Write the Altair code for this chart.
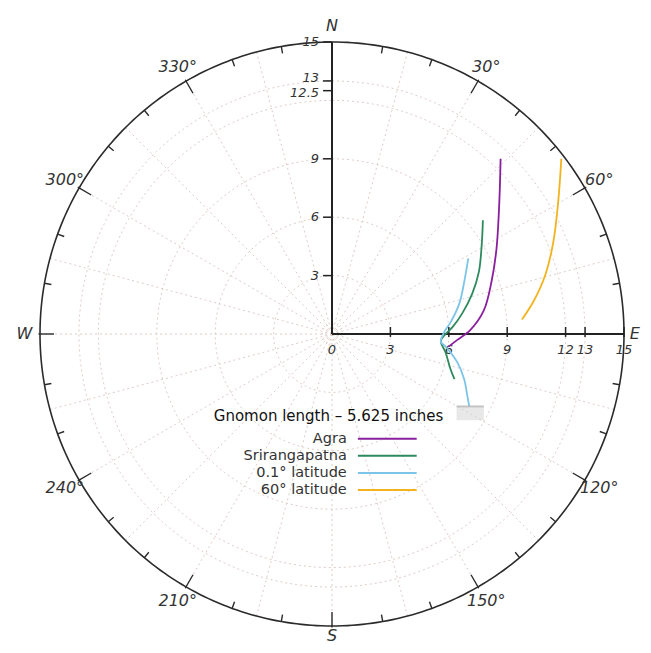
import numpy as np
import pandas as pd
import altair as alt

# ---------------- data (x = east, y = north, in inches) ----
series_names = ["Agra", "Srirangapatna", "0.1° latitude", "60° latitude"]
series_colors = ["#8a1f9e", "#2e8a5e", "#7cc4e8", "#f2b31e"]

agra_x = [8.66, 8.60, 8.45, 8.20, 7.80, 7.10, 6.44, 5.99]
agra_y = [9.00, 6.90, 4.38, 2.72, 1.21, 0.20, -0.30, -0.65]

sri_x = [7.75, 7.70, 7.55, 7.20, 6.69, 6.19, 5.84, 5.59, 5.84, 6.09, 6.29]
sri_y = [5.84, 4.73, 3.22, 2.06, 1.06, 0.35, 0.00, -0.35, -0.96, -1.81, -2.32]

lat01_x = [7.00, 6.80, 6.54, 6.09, 5.79, 5.59, 5.84, 6.44, 6.79, 6.95, 7.05]
lat01_y = [3.88, 2.72, 1.56, 0.60, 0.15, -0.40, -0.65, -1.46, -2.32, -3.17, -3.72]

lat60_x = [11.78, 11.63, 11.37, 10.97, 10.37, 9.76]
lat60_y = [9.00, 6.90, 4.73, 3.07, 1.71, 0.75]

n_ticks = [3, 6, 9, 12.5, 13, 15]
n_labels = ["3", "6", "9", "12.5", "13", "15"]
n_label_shift = [0, 0, 0, 2, -3, 0]
e_ticks = [0, 3, 6, 9, 12, 13, 15]
e_labels = ["0", "3", "6", "9", "12", "13", "15"]

angle_label_deg = [30, 60, 120, 150, 210, 240, 300, 330]
compass_deg = [0, 90, 180, 270]
compass_txt = ["N", "E", "S", "W"]
compass_r = [15.8, 15.55, 15.5, 15.8]

grid_radii = [0.5, 3, 6, 9, 12, 13]
grid_spoke_step = 15

legend_title = "Gnomon length \u2013 5.625 inches"

# faint grey smudge near the end of the 0.1° curve
smudge_x = [6.4, 7.8]
smudge_y = [-3.72, -4.43]

# ---------------- layout constants ----------------
R = 15.0
PLOT = 584
LAB_R = 15.85

xs = alt.Scale(domain=[-R, R], nice=False, zero=False)
ys = alt.Scale(domain=[-R, R], nice=False, zero=False)


def enc(**kw):
    out = {}
    for k, v in kw.items():
        if k == "x":
            out[k] = alt.X(v, type="quantitative", scale=xs, axis=None)
        elif k == "y":
            out[k] = alt.Y(v, type="quantitative", scale=ys, axis=None)
        elif k == "x2":
            out[k] = alt.X2(v)
        elif k == "y2":
            out[k] = alt.Y2(v)
        else:
            out[k] = v
    return out


def circle_df(radii, step=2):
    rows = []
    for r in radii:
        for i, a in enumerate(np.arange(0, 360 + step, step)):
            t = np.deg2rad(a)
            rows.append({"ring": str(r), "i": i, "x": r * np.sin(t), "y": r * np.cos(t)})
    return pd.DataFrame(rows)


GRID = "#dac6bf"
grid_c = alt.Chart(circle_df(grid_radii)).mark_line(
    color=GRID, strokeWidth=0.9, strokeDash=[2, 3]
).encode(**enc(x="x", y="y"), detail="ring:N", order="i:Q")

spokes = []
for a in range(0, 360, grid_spoke_step):
    t = np.deg2rad(a)
    spokes.append({"x": 0.0, "y": 0.0, "x2": R * np.sin(t), "y2": R * np.cos(t)})
grid_s = alt.Chart(pd.DataFrame(spokes)).mark_rule(
    color=GRID, strokeWidth=0.9, strokeDash=[2, 3]
).encode(**enc(x="x", y="y", x2="x2", y2="y2"))

outer = alt.Chart(circle_df([R], step=1)).mark_line(
    color="#2b2b2b", strokeWidth=1.6
).encode(**enc(x="x", y="y"), detail="ring:N", order="i:Q")

ticks = []
for a in range(10, 360, 10):
    if a == 90:
        continue
    t = np.deg2rad(a)
    inner = 0.72 if a % 30 == 0 else 0.36
    outr = 0.08 if a % 30 == 0 else 0.0
    ticks.append({"x": (R - inner) * np.sin(t), "y": (R - inner) * np.cos(t),
                  "x2": (R + outr) * np.sin(t), "y2": (R + outr) * np.cos(t)})
circ_ticks = alt.Chart(pd.DataFrame(ticks)).mark_rule(
    color="#2b2b2b", strokeWidth=1.4
).encode(**enc(x="x", y="y", x2="x2", y2="y2"))

axes_df = pd.DataFrame([
    {"x": 0.0, "y": 0.0, "x2": 0.0, "y2": R},
    {"x": 0.0, "y": 0.0, "x2": R, "y2": 0.0},
])
axes = alt.Chart(axes_df).mark_rule(color="#222222", strokeWidth=2).encode(
    **enc(x="x", y="y", x2="x2", y2="y2"))

nt_df = pd.DataFrame({"y": n_ticks, "lab": n_labels, "sh": n_label_shift})
nt_df["x"] = -0.46
nt_df["x2"] = 0.0
n_tick_marks = alt.Chart(nt_df).mark_rule(color="#222222", strokeWidth=1.5).encode(
    **enc(x="x", x2="x2", y="y"))
n_text_layers = []
for sh in sorted(set(n_label_shift)):
    n_text_layers.append(
        alt.Chart(nt_df[nt_df["sh"] == sh]).mark_text(
            align="right", baseline="middle", dx=-4, dy=sh, font="DejaVu Sans",
            fontStyle="italic", fontSize=13, color="#333333"
        ).encode(**enc(x="x", y="y"), text="lab:N")
    )

et_df = pd.DataFrame({"x": e_ticks, "lab": e_labels})
et_df["y"] = -0.15
et_df["y2"] = 0.36
et_df["y0"] = 0.0
e_tick_marks = alt.Chart(et_df[et_df["x"] > 0]).mark_rule(color="#222222", strokeWidth=1.5).encode(
    **enc(x="x", y="y", y2="y2"))
e_tick_text = alt.Chart(et_df).mark_text(
    align="center", baseline="middle", dy=16, font="DejaVu Sans", fontStyle="italic",
    fontSize=13, color="#333333"
).encode(**enc(x="x", y="y0"), text="lab:N")

al_df = pd.DataFrame({
    "x": [LAB_R * np.sin(np.deg2rad(a)) for a in angle_label_deg],
    "y": [LAB_R * np.cos(np.deg2rad(a)) for a in angle_label_deg],
    "lab": [f"{a}\u00b0" for a in angle_label_deg],
})
angle_text = alt.Chart(al_df).mark_text(
    align="center", baseline="middle", font="DejaVu Sans", fontStyle="italic",
    fontSize=16, color="#333333"
).encode(**enc(x="x", y="y"), text="lab:N")

cp_df = pd.DataFrame({
    "x": [r * np.sin(np.deg2rad(a)) for a, r in zip(compass_deg, compass_r)],
    "y": [r * np.cos(np.deg2rad(a)) for a, r in zip(compass_deg, compass_r)],
    "lab": compass_txt,
})
compass_text = alt.Chart(cp_df).mark_text(
    align="center", baseline="middle", font="DejaVu Sans", fontStyle="italic",
    fontSize=16, color="#333333"
).encode(**enc(x="x", y="y"), text="lab:N")

rows = []
for name, xv, yv in zip(series_names, [agra_x, sri_x, lat01_x, lat60_x],
                        [agra_y, sri_y, lat01_y, lat60_y]):
    for i, (a, b) in enumerate(zip(xv, yv)):
        rows.append({"series": name, "i": i, "x": a, "y": b})
lines_df = pd.DataFrame(rows)
color_scale = alt.Scale(domain=series_names, range=series_colors)
curves = alt.Chart(lines_df).mark_line(strokeWidth=1.8, interpolate="catmull-rom").encode(
    **enc(x="x", y="y"),
    color=alt.Color("series:N", scale=color_scale, legend=None),
    detail="series:N", order="i:Q")

sm_df = pd.DataFrame({"x": [smudge_x[0]], "x2": [smudge_x[1]],
                      "y": [smudge_y[0]], "y2": [smudge_y[1]]})
smudge = alt.Chart(sm_df).mark_rect(color="#d2d2d2", opacity=0.5).encode(
    **enc(x="x", x2="x2", y="y", y2="y2"))
smudge_line = alt.Chart(sm_df).mark_rule(color="#b0b0b0", strokeWidth=2, opacity=0.7).encode(
    **enc(x="x", x2="x2", y="y"))

# legend (hand-made: labels to the left of line samples)
LEG_TITLE_Y = -4.2
LEG_Y0 = -5.38
LEG_STEP = 0.88
leg_df = pd.DataFrame({"series": series_names,
                       "y": [LEG_Y0 - k * LEG_STEP for k in range(len(series_names))]})
leg_df["xl"] = 0.76
leg_df["xa"] = 1.33
leg_df["xb"] = 4.35
leg_text = alt.Chart(leg_df).mark_text(
    align="right", baseline="middle", font="DejaVu Sans", fontSize=14.5, color="#333333"
).encode(**enc(x="xl", y="y"), text="series:N")
leg_lines = alt.Chart(leg_df).mark_rule(strokeWidth=2).encode(
    **enc(x="xa", x2="xb", y="y"),
    color=alt.Color("series:N", scale=color_scale, legend=None))
title_df = pd.DataFrame({"x": [-0.18], "y": [LEG_TITLE_Y], "t": [legend_title]})
leg_title = alt.Chart(title_df).mark_text(
    align="center", baseline="middle", font="DejaVu Sans", fontSize=15, color="#111111"
).encode(**enc(x="x", y="y"), text="t:N")

chart = alt.layer(
    grid_c, grid_s, outer, circ_ticks, axes, n_tick_marks, e_tick_marks,
    *n_text_layers, e_tick_text, angle_text, compass_text, curves, smudge, smudge_line,
    leg_title, leg_text, leg_lines,
).properties(
    width=PLOT, height=PLOT,
    autosize=alt.AutoSizeParams(type="none"),
    padding={"left": 32, "top": 34, "right": 19, "bottom": 19},
    background="white",
).configure_view(stroke=None)

chart.save("out.html", embed_options={"renderer": "svg", "actions": False})
